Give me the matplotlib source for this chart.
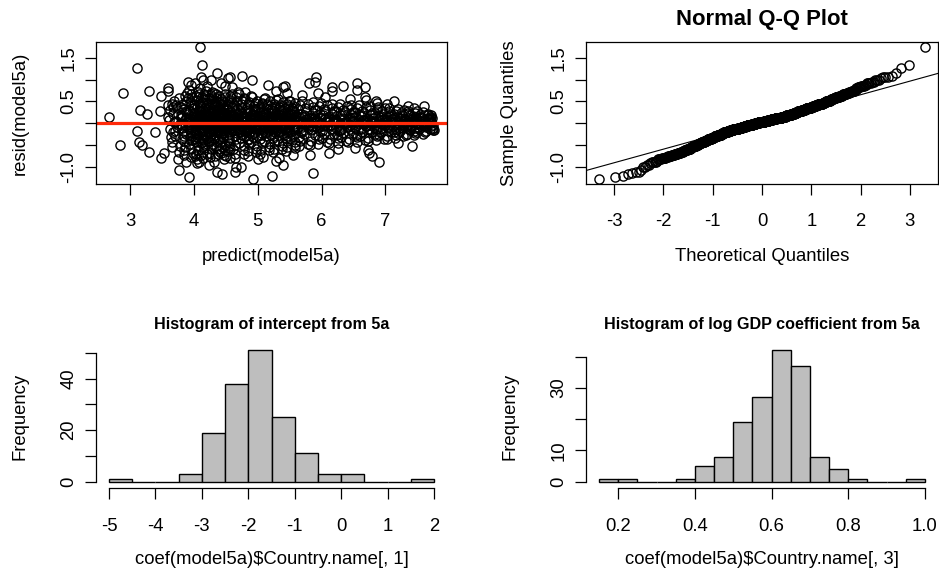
import numpy as np
import matplotlib
matplotlib.use("Agg")
import matplotlib.pyplot as plt
from statistics import NormalDist

plt.rcParams['font.family'] = ['Liberation Sans', 'DejaVu Sans']
plt.rcParams['axes.unicode_minus'] = False

# ---------------- data: residuals vs predicted (model5a) ----------------
pred_outer = [
    2.67, 2.89, 3.11, 2.85, 3.11, 3.16, 3.26, 3.30, 3.14, 3.19, 3.30, 3.39,
    3.49, 3.47, 3.48, 3.53, 3.59, 3.59, 3.60, 3.67, 3.75, 3.76, 3.88, 3.92,
    3.91, 4.10, 4.13, 4.11, 4.14, 4.08, 4.26, 4.36, 4.24, 4.36, 4.44, 4.43,
    4.53, 4.57, 4.66, 4.64, 4.74, 4.75, 4.91, 4.92, 5.08, 5.16, 5.22, 5.29,
    5.39, 5.43, 5.39, 5.28, 5.81, 5.89, 5.91, 5.86, 5.82, 5.95, 6.12, 6.16,
    6.17, 6.34, 6.56, 6.56, 6.52, 6.68, 6.68, 6.69, 6.72, 6.74, 6.79, 6.90,
    6.86, 7.13, 7.41, 7.61, 7.76, 3.95, 4.02, 4.05, 4.20, 4.32, 4.48, 4.60,
    4.80, 5.00, 5.33, 5.45, 5.55, 5.70, 6.05, 6.25, 6.45, 6.85, 7.02, 7.20,
    7.35, 7.45,
]
resid_outer = [
    0.14, 0.69, 1.26, -0.50, -0.17, 0.31, 0.21, 0.74, -0.44, -0.50, -0.65, -0.21,
    -0.79, 0.27, 0.62, -0.69, 0.80, 0.73, 0.42, 0.37, -0.82, -1.07, -0.88, -1.22,
    0.95, 1.74, 1.34, 1.07, 0.99, -0.89, 0.99, 1.15, -0.95, -1.11, -1.16, 0.92,
    1.03, 1.07, -0.99, -1.11, -0.99, 1.08, 0.98, -1.27, -0.78, 0.88, -1.20, 0.74,
    0.84, 0.85, -0.95, -0.86, 0.93, 0.95, 1.07, -1.15, -0.73, 0.69, -0.69, 0.73,
    0.84, 0.85, 0.92, 0.76, -0.57, 0.82, 0.61, 0.53, -0.61, -0.69, -0.76, -0.88,
    0.46, 0.52, -0.52, 0.40, -0.15, 0.88, 0.93, -0.90, 0.85, -0.88, 0.86, 0.82,
    0.72, -0.82, -0.80, 0.70, -0.72, 0.64, 0.60, -0.58, 0.55, 0.50, 0.45, -0.45,
    0.40, 0.36,
]

pred_core = [
    3.61, 3.64, 3.66, 3.62, 3.68, 3.65, 3.69, 3.63, 3.67, 3.60, 3.66, 3.69,
    3.71, 3.74, 3.72, 3.78, 3.75, 3.70, 3.77, 3.73, 3.79, 3.76, 3.72, 3.78,
    3.81, 3.84, 3.86, 3.82, 3.88, 3.85, 3.89, 3.83, 3.87, 3.80, 3.86, 3.89,
    3.82, 3.85, 3.81, 3.88, 3.84, 3.87, 3.83, 3.89, 3.86, 3.80, 3.85, 3.88,
    3.91, 3.93, 3.96, 3.92, 3.98, 3.95, 3.99, 3.94, 3.97, 3.90, 3.96, 3.92,
    3.90, 3.94, 3.97, 3.93, 3.99, 3.91, 3.95, 3.98, 3.92, 3.96, 3.94, 3.97,
    4.01, 4.04, 4.06, 4.02, 4.08, 4.05, 4.09, 4.03, 4.07, 4.00, 4.06, 4.09,
    4.02, 4.05, 4.01, 4.08, 4.04, 4.07, 4.03, 4.09, 4.06, 4.00, 4.05, 4.08,
    4.03, 4.07, 4.00, 4.09, 4.05, 4.02, 4.08, 4.04, 4.06, 4.01, 4.09, 4.07,
    4.11, 4.14, 4.16, 4.12, 4.18, 4.15, 4.19, 4.13, 4.17, 4.10, 4.16, 4.19,
    4.12, 4.15, 4.11, 4.18, 4.14, 4.17, 4.13, 4.19, 4.16, 4.10, 4.15, 4.18,
    4.13, 4.17, 4.10, 4.19, 4.15, 4.12, 4.18, 4.14, 4.16, 4.11, 4.19, 4.17,
    4.21, 4.24, 4.26, 4.22, 4.28, 4.25, 4.29, 4.23, 4.27, 4.20, 4.26, 4.29,
    4.22, 4.25, 4.21, 4.28, 4.24, 4.27, 4.23, 4.29, 4.26, 4.20, 4.25, 4.28,
    4.23, 4.27, 4.20, 4.29, 4.25, 4.22, 4.28, 4.24, 4.26, 4.21, 4.29, 4.27,
    4.31, 4.34, 4.36, 4.32, 4.38, 4.35, 4.39, 4.33, 4.37, 4.30, 4.36, 4.39,
    4.32, 4.35, 4.31, 4.38, 4.34, 4.37, 4.33, 4.39, 4.36, 4.30, 4.35, 4.38,
    4.33, 4.37, 4.30, 4.39, 4.35, 4.32, 4.38, 4.34, 4.36, 4.31, 4.39, 4.37,
    4.41, 4.44, 4.46, 4.42, 4.48, 4.45, 4.49, 4.43, 4.47, 4.40, 4.46, 4.49,
    4.42, 4.45, 4.41, 4.48, 4.44, 4.47, 4.43, 4.49, 4.46, 4.40, 4.45, 4.48,
    4.43, 4.47, 4.40, 4.49, 4.45, 4.42, 4.48, 4.44, 4.46, 4.41, 4.49, 4.47,
    4.51, 4.54, 4.56, 4.52, 4.58, 4.55, 4.59, 4.53, 4.57, 4.50, 4.56, 4.59,
    4.52, 4.55, 4.51, 4.58, 4.54, 4.57, 4.53, 4.59, 4.56, 4.50, 4.55, 4.58,
    4.53, 4.57, 4.50, 4.59, 4.55, 4.52, 4.58, 4.54, 4.56, 4.51, 4.59, 4.57,
    4.61, 4.64, 4.66, 4.62, 4.68, 4.65, 4.69, 4.63, 4.67, 4.60, 4.66, 4.69,
    4.62, 4.65, 4.61, 4.68, 4.64, 4.67, 4.63, 4.69, 4.66, 4.60, 4.65, 4.68,
    4.71, 4.74, 4.76, 4.72, 4.78, 4.75, 4.79, 4.73, 4.77, 4.70, 4.76, 4.79,
    4.72, 4.75, 4.71, 4.78, 4.74, 4.77, 4.73, 4.79, 4.76, 4.70, 4.75, 4.78,
    4.81, 4.84, 4.86, 4.82, 4.88, 4.85, 4.89, 4.83, 4.87, 4.80, 4.86, 4.89,
    4.82, 4.85, 4.81, 4.88, 4.84, 4.87, 4.83, 4.89, 4.86, 4.80, 4.85, 4.88,
    4.91, 4.94, 4.96, 4.92, 4.98, 4.95, 4.99, 4.93, 4.97, 4.90, 4.96, 4.99,
    4.92, 4.95, 4.91, 4.98, 4.94, 4.97, 4.93, 4.99, 4.96, 4.90, 4.95, 4.98,
    5.01, 5.04, 5.06, 5.02, 5.08, 5.05, 5.09, 5.03, 5.07, 5.00, 5.06, 5.09,
    5.02, 5.05, 5.01, 5.08, 5.04, 5.07, 5.03, 5.09, 5.06, 5.00, 5.05, 5.08,
    5.11, 5.14, 5.16, 5.12, 5.18, 5.15, 5.19, 5.13, 5.17, 5.10, 5.16, 5.19,
    5.12, 5.15, 5.11, 5.18, 5.14, 5.17, 5.13, 5.19, 5.16, 5.10, 5.15, 5.18,
    5.21, 5.24, 5.26, 5.22, 5.28, 5.25, 5.29, 5.23, 5.27, 5.20, 5.26, 5.29,
    5.22, 5.25, 5.21, 5.28, 5.24, 5.27, 5.23, 5.29, 5.26, 5.20, 5.25, 5.28,
    5.31, 5.34, 5.36, 5.32, 5.38, 5.35, 5.39, 5.33, 5.37, 5.30, 5.36, 5.39,
    5.32, 5.35, 5.31, 5.38, 5.34, 5.37, 5.33, 5.39, 5.36, 5.30, 5.35, 5.38,
    5.41, 5.44, 5.46, 5.42, 5.48, 5.45, 5.49, 5.43, 5.47, 5.40, 5.46, 5.49,
    5.42, 5.45, 5.41, 5.48, 5.44, 5.47, 5.43, 5.49, 5.46, 5.40, 5.45, 5.48,
    5.51, 5.54, 5.56, 5.52, 5.58, 5.55, 5.59, 5.53, 5.57, 5.50, 5.56, 5.59,
    5.52, 5.55, 5.51, 5.58, 5.54, 5.57, 5.53, 5.59, 5.56, 5.50, 5.55, 5.58,
    5.61, 5.64, 5.66, 5.62, 5.68, 5.65, 5.69, 5.63, 5.67, 5.60, 5.66, 5.69,
    5.71, 5.74, 5.76, 5.72, 5.78, 5.75, 5.79, 5.73, 5.77, 5.70, 5.76, 5.79,
    5.81, 5.84, 5.86, 5.82, 5.88, 5.85, 5.89, 5.83, 5.87, 5.80, 5.86, 5.89,
    5.91, 5.94, 5.96, 5.92, 5.98, 5.95, 5.99, 5.93, 5.97, 5.90, 5.96, 5.99,
    6.01, 6.04, 6.06, 6.02, 6.08, 6.05, 6.09, 6.03, 6.07, 6.00, 6.06, 6.09,
    6.11, 6.14, 6.16, 6.12, 6.18, 6.15, 6.19, 6.13, 6.17, 6.10, 6.16, 6.19,
    6.21, 6.24, 6.26, 6.22, 6.28, 6.25, 6.29, 6.23, 6.27, 6.20, 6.26, 6.29,
    6.31, 6.34, 6.36, 6.32, 6.38, 6.35, 6.39, 6.33, 6.37, 6.30, 6.36, 6.39,
    6.41, 6.44, 6.46, 6.42, 6.48, 6.45, 6.49, 6.43, 6.47, 6.40, 6.46, 6.49,
    6.51, 6.54, 6.56, 6.52, 6.58, 6.55, 6.59, 6.53, 6.57, 6.50, 6.56, 6.59,
    6.61, 6.64, 6.66, 6.62, 6.68, 6.65, 6.69, 6.63, 6.67, 6.60, 6.66, 6.69,
    6.71, 6.74, 6.76, 6.72, 6.78, 6.75, 6.79, 6.73, 6.77, 6.70, 6.76, 6.79,
    6.81, 6.84, 6.86, 6.82, 6.88, 6.85, 6.89, 6.83, 6.87, 6.80, 6.86, 6.89,
    6.91, 6.94, 6.96, 6.92, 6.98, 6.95, 6.99, 6.93, 6.97, 6.90, 6.96, 6.99,
    7.01, 7.04, 7.06, 7.02, 7.08, 7.05, 7.09, 7.03, 7.07, 7.00, 7.06, 7.09,
    7.11, 7.14, 7.16, 7.12, 7.18, 7.15, 7.19, 7.13, 7.17, 7.10, 7.16, 7.19,
    7.21, 7.24, 7.26, 7.22, 7.28, 7.25, 7.29, 7.23, 7.27, 7.20, 7.26, 7.29,
    7.31, 7.34, 7.36, 7.32, 7.38, 7.35, 7.39, 7.33, 7.37, 7.30, 7.36, 7.39,
    7.41, 7.44, 7.46, 7.42, 7.48, 7.45, 7.49, 7.43, 7.47, 7.40, 7.46, 7.49,
    7.51, 7.54, 7.56, 7.52, 7.58, 7.55, 7.59, 7.53, 7.57, 7.50, 7.56, 7.59,
    7.61, 7.64, 7.66, 7.62, 7.68, 7.65, 7.69, 7.63, 7.67, 7.60, 7.66, 7.69,
    7.71, 7.73, 7.72, 7.74, 7.70, 7.75, 7.71, 7.73, 7.72, 7.70, 7.74, 7.72,
]
resid_core = [
    0.08, -0.31, 0.45, -0.12, 0.22, -0.55, 0.03, 0.31, -0.20, 0.14, -0.42, 0.52,
    -0.18, 0.36, 0.05, -0.52, 0.21, -0.30, 0.58, -0.08, 0.12, -0.66, 0.41, -0.02,
    0.15, -0.40, 0.62, -0.11, 0.28, -0.72, 0.02, 0.44, -0.25, 0.19, -0.55, 0.70,
    -0.05, 0.33, -0.36, 0.09, -0.61, 0.52, -0.18, 0.25, -0.03, 0.38, -0.29, 0.11,
    0.21, -0.47, 0.66, -0.14, 0.35, -0.78, 0.07, 0.48, -0.30, 0.13, -0.59, 0.76,
    -0.09, 0.29, -0.39, 0.04, -0.68, 0.57, -0.22, 0.18, -0.01, 0.41, -0.33, 0.60,
    0.10, -0.44, 0.71, -0.16, 0.31, -0.82, 0.05, 0.53, -0.27, 0.24, -0.62, 0.80,
    -0.07, 0.37, -0.35, 0.12, -0.70, 0.60, -0.20, 0.27, 0.00, 0.45, -0.31, 0.17,
    0.62, -0.53, 0.34, -0.11, 0.19, -0.41, 0.66, -0.24, 0.08, -0.75, 0.43, -0.02,
    0.18, -0.38, 0.68, -0.21, 0.36, -0.80, 0.02, 0.49, -0.29, 0.11, -0.57, 0.74,
    -0.10, 0.30, -0.45, 0.07, -0.66, 0.56, -0.15, 0.23, -0.04, 0.40, -0.34, 0.14,
    0.59, -0.50, 0.28, -0.09, 0.22, -0.43, 0.63, -0.26, 0.09, -0.72, 0.47, -0.01,
    0.13, -0.42, 0.64, -0.18, 0.33, -0.77, 0.06, 0.46, -0.24, 0.20, -0.60, 0.72,
    -0.06, 0.35, -0.37, 0.10, -0.68, 0.55, -0.19, 0.26, -0.02, 0.42, -0.30, 0.16,
    0.58, -0.52, 0.30, -0.13, 0.21, -0.40, 0.61, -0.23, 0.07, -0.70, 0.44, -0.04,
    -0.33, 0.52, -0.08, 0.27, -0.71, 0.15, 0.63, -0.19, 0.03, -0.48, 0.39, -0.58,
    0.09, -0.26, 0.70, -0.40, 0.20, -0.12, 0.45, -0.64, 0.31, -0.02, 0.57, -0.21,
    -0.76, 0.36, -0.15, 0.12, 0.66, -0.36, 0.24, -0.53, 0.05, 0.42, -0.09, 0.18,
    0.24, -0.55, 0.11, -0.17, 0.61, -0.34, 0.04, 0.43, -0.72, 0.19, -0.06, 0.68,
    -0.28, 0.33, -0.44, 0.08, 0.50, -0.11, 0.27, -0.62, 0.14, -0.37, 0.39, -0.01,
    0.55, -0.22, 0.16, -0.49, 0.35, -0.67, 0.02, 0.21, -0.31, 0.46, -0.13, -0.81,
    -0.14, 0.40, -0.58, 0.22, 0.06, -0.33, 0.66, -0.09, 0.29, -0.74, 0.13, 0.49,
    0.31, -0.46, 0.01, 0.58, -0.20, 0.17, -0.63, 0.37, -0.03, 0.24, -0.39, 0.10,
    -0.27, 0.62, -0.11, 0.19, -0.52, 0.44, -0.05, 0.08, -0.79, 0.34, -0.16, 0.53,
    0.17, -0.49, 0.60, -0.10, 0.32, -0.70, 0.04, 0.42, -0.23, 0.12, -0.36, 0.71,
    -0.04, 0.26, -0.58, 0.09, -0.30, 0.50, -0.15, 0.21, -0.01, 0.37, -0.80, 0.14,
    -0.21, 0.45, -0.06, 0.28, -0.62, 0.11, 0.57, -0.33, 0.03, -0.45, 0.35, -0.12,
    0.19, -0.27, 0.66, -0.52, 0.08, -0.09, 0.38, -0.71, 0.24, 0.00, 0.52, -0.17,
    0.07, -0.39, 0.49, -0.16, 0.25, -0.63, 0.02, 0.36, -0.22, 0.15, -0.47, 0.62,
    -0.08, 0.30, -0.30, 0.12, -0.74, 0.43, -0.13, 0.20, -0.03, 0.55, -0.35, 0.10,
    -0.25, 0.40, -0.04, 0.22, -0.58, 0.13, 0.52, -0.31, 0.05, -0.44, 0.33, -0.11,
    0.16, -0.20, 0.59, -0.66, 0.09, -0.07, 0.35, -0.52, 0.27, 0.01, 0.46, -0.16,
    0.11, -0.36, 0.47, -0.14, 0.26, -0.61, 0.03, 0.38, -0.23, 0.18, -0.45, 0.56,
    -0.06, 0.29, -0.30, 0.08, -0.70, 0.44, -0.12, 0.21, -0.02, 0.34, -0.28, 0.13,
    -0.22, 0.41, -0.05, 0.24, -0.55, 0.12, 0.50, -0.29, 0.04, -0.40, 0.32, -0.10,
    0.15, -0.18, 0.57, -0.62, 0.07, -0.08, 0.36, -0.48, 0.26, 0.02, 0.44, -0.15,
    0.09, -0.34, 0.45, -0.13, 0.24, -0.58, 0.02, 0.35, -0.21, 0.16, -0.42, 0.53,
    -0.05, 0.27, -0.27, 0.10, -0.66, 0.40, -0.11, 0.19, -0.01, 0.31, -0.30, 0.12,
    -0.20, 0.38, -0.03, 0.22, -0.52, 0.11, 0.48, -0.27, 0.05, -0.38, 0.30, -0.09,
    0.14, -0.17, 0.55, -0.60, 0.06, -0.07, 0.33, -0.46, 0.25, 0.03, 0.42, -0.14,
    0.10, -0.33, 0.43, -0.12, 0.23, -0.55, 0.01, 0.34, -0.20, 0.15, -0.40, 0.51,
    -0.04, 0.26, -0.26, 0.09, -0.63, 0.39, -0.10, 0.18, 0.00, 0.30, -0.29, 0.11,
    -0.19, 0.36, -0.02, 0.21, -0.50, 0.10, 0.46, -0.26, 0.05, -0.36, 0.29, -0.08,
    0.13, -0.16, 0.52, -0.57, 0.06, -0.06, 0.31, -0.44, 0.24, 0.02, 0.40, -0.13,
    0.08, -0.31, 0.42, -0.12, 0.22, -0.52, 0.01, 0.32, -0.19, 0.14, -0.40, 0.50,
    -0.18, 0.35, -0.03, 0.20, -0.47, 0.10, 0.45, -0.25, 0.04, -0.35, 0.28, -0.08,
    0.12, -0.15, 0.48, -0.50, 0.05, -0.06, 0.30, -0.40, 0.23, 0.02, 0.38, -0.27,
    0.07, -0.30, 0.40, -0.11, 0.21, -0.48, 0.01, 0.30, -0.18, 0.14, -0.37, 0.47,
    -0.17, 0.33, -0.03, 0.19, -0.44, 0.09, 0.42, -0.24, 0.04, -0.33, 0.27, -0.07,
    0.11, -0.14, 0.45, -0.46, 0.05, -0.05, 0.28, -0.37, 0.21, 0.02, 0.35, -0.25,
    0.06, -0.28, 0.37, -0.10, 0.19, -0.45, 0.01, 0.28, -0.17, 0.13, -0.34, 0.44,
    -0.15, 0.31, -0.02, 0.18, -0.41, 0.09, 0.39, -0.22, 0.04, -0.31, 0.25, -0.06,
    0.10, -0.13, 0.42, -0.43, 0.05, -0.05, 0.26, -0.35, 0.20, 0.01, 0.33, -0.23,
    0.06, -0.26, 0.35, -0.09, 0.18, -0.42, 0.01, 0.26, -0.16, 0.12, -0.32, 0.41,
    -0.14, 0.29, -0.02, 0.17, -0.39, 0.08, 0.37, -0.21, 0.03, -0.29, 0.23, -0.06,
    0.09, -0.12, 0.39, -0.40, 0.04, -0.04, 0.24, -0.33, 0.18, 0.01, 0.31, -0.21,
    0.05, -0.24, 0.32, -0.08, 0.16, -0.38, 0.01, 0.24, -0.14, 0.11, -0.29, 0.37,
    -0.13, 0.27, -0.02, 0.15, -0.36, 0.07, 0.34, -0.19, 0.03, -0.27, 0.21, -0.05,
    0.08, -0.11, 0.35, -0.35, 0.04, -0.04, 0.22, -0.29, 0.16, 0.01, 0.28, -0.19,
    0.05, -0.21, 0.29, -0.07, 0.14, -0.33, 0.01, 0.21, -0.13, 0.10, -0.26, 0.33,
    -0.11, 0.24, -0.02, 0.13, -0.30, 0.06, 0.30, -0.17, 0.03, -0.23, 0.19, -0.05,
    0.07, -0.10, 0.29, -0.28, 0.03, -0.03, 0.18, -0.24, 0.13, 0.01, 0.23, -0.16,
    0.04, -0.18, 0.24, -0.06, 0.12, -0.27, 0.01, 0.17, -0.11, 0.08, -0.22, 0.27,
    -0.09, 0.19, -0.01, 0.11, -0.24, 0.05, 0.25, -0.14, 0.02, -0.19, 0.15, -0.04,
    0.06, -0.08, 0.22, -0.20, 0.03, -0.02, 0.14, -0.17, 0.10, 0.01, 0.18, -0.12,
    0.03, -0.12, 0.15, -0.04, 0.09, -0.15, 0.00, 0.11, -0.07, 0.05, -0.10, 0.18,
]

# points close to the fitted line (dense centre of the cloud)
pred_mid = [
    3.92, 4.03, 4.11, 4.18, 4.27, 4.35, 4.44, 4.52, 4.61, 4.69, 4.78, 4.86,
    3.95, 4.06, 4.14, 4.23, 4.31, 4.40, 4.48, 4.57, 4.65, 4.74, 4.83, 4.93,
    3.98, 4.08, 4.16, 4.25, 4.33, 4.42, 4.51, 4.59, 4.67, 4.76, 4.88, 4.97,
    4.01, 4.09, 4.20, 4.29, 4.38, 4.46, 4.55, 4.63, 4.72, 4.81, 4.91, 5.02,
    5.05, 5.13, 5.21, 5.29, 5.37, 5.45, 5.53, 5.61, 5.69, 5.77, 5.85, 5.93,
    5.08, 5.16, 5.24, 5.32, 5.40, 5.48, 5.56, 5.64, 5.72, 5.80, 5.88, 5.96,
    5.11, 5.19, 5.27, 5.35, 5.43, 5.51, 5.59, 5.67, 5.75, 5.83, 5.91, 5.99,
    6.02, 6.10, 6.18, 6.26, 6.34, 6.42, 6.50, 6.58, 6.66, 6.74, 6.82, 6.90,
    6.05, 6.13, 6.21, 6.29, 6.37, 6.45, 6.53, 6.61, 6.69, 6.77, 6.85, 6.93,
    6.98, 7.06, 7.14, 7.22, 7.30, 7.38, 7.46, 7.54, 7.62, 7.70, 7.03, 7.27,
    4.04, 4.13, 4.21, 4.30, 4.39, 4.47, 4.56, 4.64, 4.73, 4.85, 4.95, 5.15,
    5.26, 5.38, 5.50, 5.62, 5.74, 5.86, 5.98, 6.08, 6.20, 6.32, 6.48, 6.64,
    3.94, 4.07, 4.19, 4.28, 4.37, 4.50, 4.58, 4.70, 4.79, 4.90, 5.00, 5.18,
    6.80, 6.96, 7.10, 7.24, 7.36, 7.48, 7.58, 7.66, 4.26, 4.45, 4.62, 4.80,
]
resid_mid = [
    0.04, -0.12, 0.15, -0.03, 0.09, -0.17, 0.12, -0.07, 0.18, -0.14, 0.02, -0.09,
    -0.08, 0.11, -0.16, 0.06, -0.02, 0.14, -0.11, 0.19, -0.05, 0.08, -0.18, 0.13,
    0.16, -0.04, 0.07, -0.13, 0.19, -0.09, 0.03, -0.15, 0.10, -0.01, 0.12, -0.06,
    -0.15, 0.08, -0.06, 0.17, -0.11, 0.05, 0.13, -0.02, -0.19, 0.15, -0.08, 0.04,
    0.06, -0.10, 0.14, -0.05, 0.11, -0.16, 0.02, 0.17, -0.08, 0.09, -0.13, 0.04,
    -0.12, 0.03, -0.17, 0.13, -0.01, 0.08, -0.14, 0.06, 0.15, -0.04, 0.10, -0.09,
    0.18, -0.07, 0.05, -0.11, 0.16, -0.03, 0.10, -0.18, 0.01, 0.13, -0.06, 0.12,
    -0.06, 0.09, -0.13, 0.04, 0.12, -0.08, 0.15, -0.02, 0.07, -0.15, 0.03, 0.10,
    0.13, -0.04, 0.07, -0.16, 0.02, 0.11, -0.10, 0.16, -0.07, 0.05, -0.12, -0.01,
    0.07, -0.09, 0.12, -0.03, 0.10, -0.12, 0.05, 0.14, -0.06, 0.08, 0.15, -0.10,
    0.01, 0.10, -0.10, 0.00, 0.06, -0.05, 0.08, 0.11, -0.03, -0.12, 0.07, 0.00,
    -0.02, 0.07, 0.00, -0.10, 0.04, 0.01, -0.03, 0.06, 0.00, -0.07, 0.04, 0.01,
    0.12, 0.00, 0.05, -0.08, -0.04, 0.09, -0.10, 0.04, 0.14, -0.02, 0.05, -0.13,
    0.00, -0.05, 0.03, 0.07, -0.02, 0.09, 0.03, 0.12, 0.02, -0.01, 0.03, 0.06,
]

resid_yticks = [-1.0, -0.5, 0.0, 0.5, 1.0, 1.5]
resid_ylabels = ['-1.0', '', '', '0.5', '', '1.5']
pred_xticks = [3, 4, 5, 6, 7]
qq_xticks = [-3, -2, -1, 0, 1, 2, 3]

# ---------------- data: histograms of country coefficients ----------------
intercept_edges = [-5.0, -4.5, -4.0, -3.5, -3.0, -2.5, -2.0, -1.5, -1.0, -0.5,
                   0.0, 0.5, 1.0, 1.5, 2.0]
intercept_counts = [1, 0, 0, 3, 19, 38, 51, 25, 11, 3, 3, 0, 0, 1]
intercept_xticks = [-5, -4, -3, -2, -1, 0, 1, 2]
intercept_yticks = [0, 10, 20, 30, 40, 50]
intercept_ylabels = ['0', '', '20', '', '40', '']

gdp_edges = [0.15, 0.20, 0.25, 0.30, 0.35, 0.40, 0.45, 0.50, 0.55, 0.60,
             0.65, 0.70, 0.75, 0.80, 0.85, 0.90, 0.95, 1.00]
gdp_counts = [1, 1, 0, 0, 1, 5, 8, 19, 27, 42, 37, 8, 4, 1, 0, 0, 1]
gdp_xticks = [0.2, 0.4, 0.6, 0.8, 1.0]
gdp_xlabels = ['0.2', '0.4', '0.6', '0.8', '1.0']
gdp_yticks = [0, 10, 20, 30, 40]
gdp_ylabels = ['0', '10', '', '30', '']

# ---------------- figure layout ----------------
W, H = 939, 583
DPI = 100
fig = plt.figure(figsize=(W / DPI, H / DPI), dpi=DPI)

BASE = 13.3      # pt
TICK_LEN = 7.9   # pt (~11 px)
LW = 0.9


def rect(l, t, r, b):
    return [l / W, 1 - b / H, (r - l) / W, (b - t) / H]


def style(ax, box=True, w_px=351, h_px=142, xlabel='', ylabel=''):
    for s in ax.spines.values():
        s.set_linewidth(LW)
        s.set_visible(box)
    ax.tick_params(direction='out', length=TICK_LEN, width=LW,
                   labelsize=BASE, colors='black')
    ax.tick_params(axis='x', pad=13.2)
    ax.tick_params(axis='y', pad=5.5)
    for lab in ax.get_yticklabels():
        lab.set_rotation(90)
        lab.set_va('center')
    ax.set_xlabel(xlabel, fontsize=BASE, va='center')
    ax.xaxis.set_label_coords(0.5, -73 / h_px)
    ax.set_ylabel(ylabel, fontsize=BASE, va='center')
    ax.yaxis.set_label_coords(-76 / w_px, 0.5)


predicted = np.array(pred_outer + pred_core + pred_mid)
residual = np.array(resid_outer + resid_core + resid_mid)

# ---- top-left: residuals vs predicted ----
ax1 = fig.add_axes(rect(96, 42, 447, 184))
ax1.plot(predicted, residual, linestyle='none', marker='o', ms=6.6,
         mfc='none', mec='black', mew=1.0)
ax1.margins(x=0.04, y=0.04)
ax1.axhline(0, color='#ff2a0a', lw=2.3)
ax1.set_xticks(pred_xticks)
ax1.set_xticklabels([str(v) for v in pred_xticks])
ax1.set_yticks(resid_yticks)
ax1.set_yticklabels(resid_ylabels)
style(ax1, xlabel='predict(model5a)', ylabel='resid(model5a)')

# ---- top-right: normal Q-Q ----
ax2 = fig.add_axes(rect(586, 42, 938, 184))
n = len(residual)
sample_q = np.sort(residual)
nd = NormalDist()
theo_q = np.array([nd.inv_cdf((i + 0.5) / n) for i in range(n)])
ax2.plot(theo_q, sample_q, linestyle='none', marker='o', ms=6.6,
         mfc='none', mec='black', mew=1.0)
ax2.margins(x=0.04, y=0.04)
q25, q75 = np.quantile(residual, [0.25, 0.75])
z25, z75 = nd.inv_cdf(0.25), nd.inv_cdf(0.75)
slope = (q75 - q25) / (z75 - z25)
intercept = q25 - slope * z25
ax2.axline((0, intercept), slope=slope, color='black', lw=0.8)
ax2.set_xticks(qq_xticks)
ax2.set_xticklabels([str(v) for v in qq_xticks])
ax2.set_yticks(resid_yticks)
ax2.set_yticklabels(resid_ylabels)
style(ax2, w_px=352, xlabel='Theoretical Quantiles', ylabel='Sample Quantiles')
ax2.text(0.5, 1 + 22 / 142, 'Normal Q-Q Plot', transform=ax2.transAxes,
         ha='center', va='center', fontsize=15.9, fontweight='bold')


def histogram(ax, edges, counts, xticks, xlabels, yticks, ylabels, title, xlabel, w_px):
    edges = np.asarray(edges)
    widths = np.diff(edges)
    ax.bar(edges[:-1], counts, width=widths, align='edge', color='#bebebe',
           edgecolor='black', linewidth=1.0)
    span = edges[-1] - edges[0]
    ax.set_xlim(edges[0] - 0.04 * span, edges[-1] + 0.04 * span)
    top = max(counts)
    ax.set_ylim(-0.04 * top, 1.04 * top)
    ax.set_xticks(xticks)
    ax.set_xticklabels(xlabels)
    ax.set_yticks(yticks)
    ax.set_yticklabels(ylabels)
    style(ax, box=False, w_px=w_px, xlabel=xlabel, ylabel='Frequency')
    ax.spines['left'].set_visible(True)
    ax.spines['bottom'].set_visible(True)
    ax.spines['bottom'].set_position(('outward', 1))
    ax.spines['bottom'].set_bounds(xticks[0], xticks[-1])
    ax.spines['left'].set_bounds(yticks[0], yticks[-1])
    ax.text(0.5, 1 + 21 / 142, title, transform=ax.transAxes, ha='center',
            va='center', fontsize=11.6, fontweight='bold')


ax3 = fig.add_axes(rect(96, 345, 447, 487))
histogram(ax3, intercept_edges, intercept_counts, intercept_xticks,
          [str(v) for v in intercept_xticks], intercept_yticks, intercept_ylabels,
          'Histogram of intercept from 5a', 'coef(model5a)$Country.name[, 1]', 351)

ax4 = fig.add_axes(rect(586, 345, 938, 487))
histogram(ax4, gdp_edges, gdp_counts, gdp_xticks, gdp_xlabels, gdp_yticks,
          gdp_ylabels, 'Histogram of log GDP coefficient from 5a',
          'coef(model5a)$Country.name[, 3]', 352)

fig.savefig('out.png', dpi=DPI)
